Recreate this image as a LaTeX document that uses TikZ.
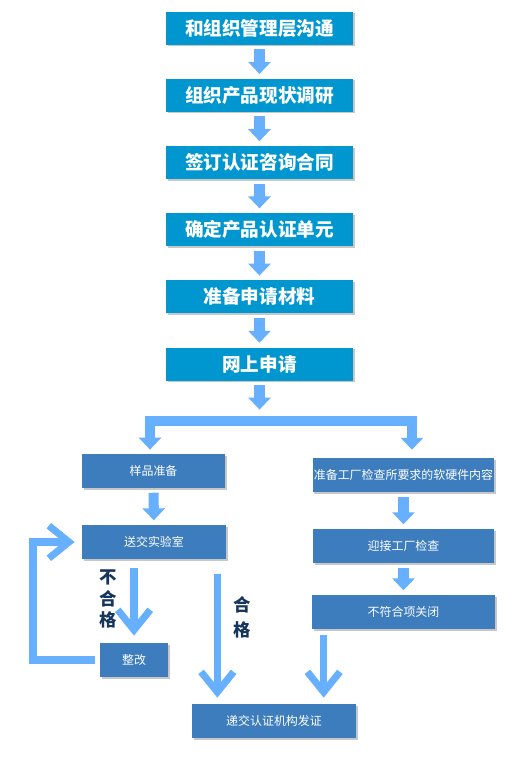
\documentclass[tikz,border=0pt]{standalone}
\usepackage{fontspec}
\newfontfamily\cjk{Noto Sans CJK SC}
\usetikzlibrary{arrows.meta,shadows,calc}
\definecolor{topblue}{RGB}{0,150,207}
\definecolor{stepblue}{RGB}{61,125,190}
\definecolor{arrowblue}{RGB}{102,176,255}
\definecolor{labelnavy}{RGB}{23,54,93}

\begin{document}
\begin{tikzpicture}[x=0.02cm,y=-0.02cm,
  boxshadow/.style={drop shadow={shadow xshift=1pt,shadow yshift=-1pt,fill=black!22,opacity=1}},
  topbox/.style={boxshadow,fill=topblue,text=white,font=\cjk\bfseries\fontsize{10.6}{12}\selectfont,
    minimum width=3.74cm,minimum height=0.66cm,inner sep=0pt},
  stepbox/.style={boxshadow,fill=stepblue,text=white,font=\cjk\fontsize{6.8}{8}\selectfont,
    minimum height=0.68cm,inner sep=0pt},
  smallarr/.style={draw=arrowblue,line width=5.7pt,line join=miter,
    -{Triangle[width=12.5pt,length=6.8pt]},shorten <=2.5pt,shorten >=2.5pt},
  bigarr/.style={draw=arrowblue,line width=4pt,line join=miter,
    -{Straight Barb[width=18.5pt,length=11.5pt]}},
  lbl/.style={text=labelnavy,font=\cjk\bfseries\fontsize{9.9}{12.2}\selectfont,align=center,inner sep=0pt}
]
\useasboundingbox (0,0) rectangle (530,758);

\node[topbox] (b1) at (259.5,28) {和组织管理层沟通};
\node[topbox] (b2) at (259.5,95.2) {组织产品现状调研};
\node[topbox] (b3) at (259.5,162.4) {签订认证咨询合同};
\node[topbox] (b4) at (259.5,229.6) {确定产品认证单元};
\node[topbox] (b5) at (259.5,296.8) {准备申请材料};
\node[topbox] (b6) at (259.5,364) {网上申请};

\foreach \a/\b in {b1/b2,b2/b3,b3/b4,b4/b5,b5/b6}
  \draw[smallarr] (\a) -- (\b);

\node[stepbox,minimum width=2.86cm] (sp) at (153.5,471) {样品准备};
\node[stepbox,minimum width=2.88cm] (sy) at (154,542) {送交实验室};
\node[stepbox,minimum width=1.36cm] (zg) at (134,660) {整改};
\node[stepbox,minimum width=3.64cm] (fp) at (403.5,475) {准备工厂检查所要求的软硬件内容};
\node[stepbox,minimum width=3.62cm] (yj) at (403.5,546) {迎接工厂检查};
\node[stepbox,minimum width=3.66cm] (nc) at (403.5,612) {不符合项关闭};
\node[stepbox,minimum width=3.28cm] (fz) at (274,721) {递交认证机构发证};

\coordinate (brL) at (150,421);
\coordinate (brR) at (412,421);
\draw[smallarr,shorten >=6.5pt] (b6.south) -- (b6.south |- brL);
\draw[smallarr,{Triangle[width=12.5pt,length=6.8pt]}-{Triangle[width=12.5pt,length=6.8pt]},shorten <=2.3pt,shorten >=4.5pt]
  (brL |- sp.north) -- (brL) -- (brR) -- (brR |- fp.north);

\draw[smallarr] (sp) -- (sy);
\draw[smallarr] (fp) -- (yj);
\draw[smallarr] (yj) -- (nc);

\coordinate (ok) at ($(sy.south east)+(-9,0)$);
\coordinate (nc1) at ($(nc.south west)+(12,0)$);
\coordinate (lp) at (33,600);
\draw[bigarr,shorten <=5pt,shorten >=4pt] (zg.north |- sy.south) -- (zg.north);
\draw[bigarr,shorten <=8.5pt,shorten >=3.4pt] (ok) -- (ok |- fz.north);
\draw[bigarr,shorten <=3.4pt,shorten >=3.4pt] (nc1) -- (nc1 |- fz.north);
\draw[bigarr,shorten <=2.8pt,shorten >=4pt] (zg.west) -| (lp) |- (sy.west);

\node[lbl] (nok) at (108,599) {不\\合\\格};
\node[lbl,font=\cjk\bfseries\fontsize{9.9}{14.2}\selectfont] (pass) at (242,617) {合\\格};
\end{tikzpicture}
\end{document}
